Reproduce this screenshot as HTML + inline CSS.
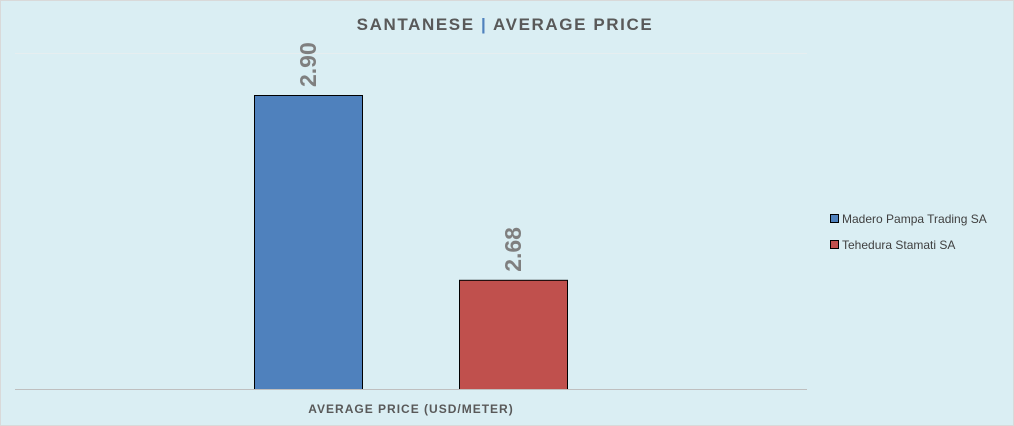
<!DOCTYPE html>
<html><head><meta charset="utf-8"><style>
body{margin:0;background:#daeef3;}
svg{display:block;font-family:"Liberation Sans",sans-serif;}
</style></head><body>
<svg id="chart" width="1014" height="426">
<rect x="0.5" y="0.5" width="1013" height="425" fill="#daeef3" stroke="#d9d9d9"/>
<text x="505" y="30" text-anchor="middle" font-size="17" font-weight="bold" fill="#595959" letter-spacing="1.6">SANTANESE <tspan fill="#4f81bd">|</tspan> AVERAGE PRICE</text>
<line x1="15" y1="53.5" x2="807" y2="53.5" stroke="#e6eef0"/>
<g id="bars"></g>
<line x1="15" y1="389.5" x2="807" y2="389.5" stroke="#bfbfbf"/>
<text x="411" y="413" text-anchor="middle" font-size="12" font-weight="bold" fill="#595959" letter-spacing="1">AVERAGE PRICE (USD/METER)</text>
<g>
<rect x="830.5" y="214.5" width="8" height="8" fill="#4f81bd" stroke="#000"/>
<text x="842" y="223" font-size="12" fill="#404040">Madero Pampa Trading SA</text>
<rect x="830.5" y="240.5" width="8" height="8" fill="#c0504d" stroke="#000"/>
<text x="842" y="249" font-size="12" fill="#404040">Tehedura Stamati SA</text>
</g>
</svg>
<script>
const categories = ["Madero Pampa Trading SA", "Tehedura Stamati SA"];
const values = [2.90, 2.68];
const labels = ["2.90", "2.68"];
const colors = ["#4f81bd", "#c0504d"];
const yMin = 2.55, yMax = 2.95;
const plotTop = 53, plotBottom = 389;
function yScale(v){ return plotBottom - (v - yMin) / (yMax - yMin) * (plotBottom - plotTop); }
const barX = i => 254 + i * 205, barW = 108;
const g = document.getElementById('bars');
const ns = 'http://www.w3.org/2000/svg';
values.forEach((v, i) => {
  const r = document.createElementNS(ns, 'rect');
  
  
  r.setAttribute('x', barX(i) + 0.5);
  r.setAttribute('y', yScale(v) + 0.5);
  r.setAttribute('width', barW);
  r.setAttribute('height', plotBottom - yScale(v));
  r.setAttribute('fill', colors[i]);
  r.setAttribute('stroke', '#000');
  g.appendChild(r);
  const t = document.createElementNS(ns, 'text');
  
  
  const cx = barX(i) + barW / 2 + 8, cy = yScale(v) - 8;
  t.setAttribute('transform', 'translate(' + cx + ',' + cy + ') rotate(-90)');
  t.setAttribute('font-size', '23');
  t.setAttribute('font-weight', 'bold');
  t.setAttribute('fill', '#7f7f7f');
  t.textContent = labels[i];
  g.appendChild(t);
});
</script>
</body></html>
